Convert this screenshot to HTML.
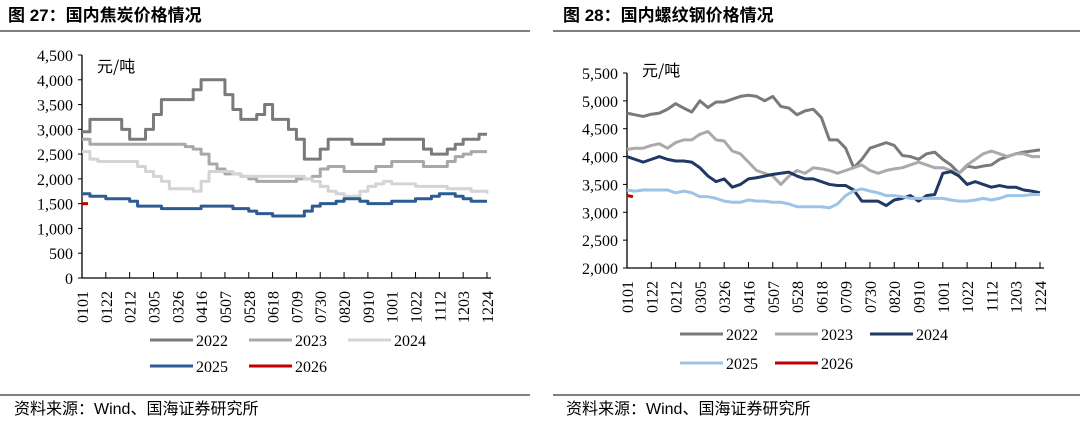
<!DOCTYPE html>
<html><head><meta charset="utf-8">
<style>
body{margin:0;width:1080px;height:426px;background:#fff;overflow:hidden;font-family:"Liberation Serif","Noto Serif CJK SC",serif;}
svg{display:block}
.t{font-family:"Liberation Sans","Noto Sans CJK SC",sans-serif;font-weight:bold;font-size:17px;fill:#000}
.ax{font-size:16px;fill:#000}
.src{font-family:"Liberation Sans","Noto Sans CJK SC",sans-serif;font-size:16px;fill:#000}
</style></head>
<body>
<svg id="s" width="1080" height="426">
<text class="t" x="8" y="21">图 27：国内焦炭价格情况</text>
<text class="t" x="563" y="21">图 28：国内螺纹钢价格情况</text>
<line x1="0" y1="31" x2="530" y2="31" stroke="#555" stroke-width="1.5"/>
<line x1="553" y1="31" x2="1080" y2="31" stroke="#555" stroke-width="1.5"/>
<line x1="0" y1="395" x2="530" y2="395" stroke="#555" stroke-width="1.5"/>
<line x1="553" y1="395" x2="1080" y2="395" stroke="#555" stroke-width="1.5"/>
<text class="src" x="14" y="414">资料来源：Wind、国海证券研究所</text>
<text class="src" x="566" y="414">资料来源：Wind、国海证券研究所</text>
<g id="L"></g><g id="R"></g>
</svg>
<script>
const xCategories=["0101","0122","0212","0305","0326","0416","0507","0528","0618","0709","0730","0820","0910","1001","1022","1112","1203","1224"];
const cokeTicks=[0,500,1000,1500,2000,2500,3000,3500,4000,4500];
const coke2022=[2950,3200,3200,3200,3200,3000,2800,2800,3000,3300,3600,3600,3600,3600,3800,4000,4000,4000,3700,3400,3200,3200,3300,3500,3200,3200,3000,2800,2400,2400,2600,2800,2800,2800,2700,2700,2700,2700,2800,2800,2800,2800,2800,2600,2500,2500,2600,2700,2800,2800,2900,2900];
const coke2023=[2800,2700,2700,2700,2700,2700,2700,2700,2700,2700,2700,2700,2700,2650,2600,2500,2300,2200,2100,2100,2050,2000,1950,1950,1950,1950,1950,2000,2000,2050,2200,2250,2250,2150,2150,2150,2150,2250,2250,2350,2350,2350,2350,2250,2250,2250,2350,2450,2500,2550,2550,2550];
const coke2024=[2550,2400,2350,2350,2350,2350,2350,2250,2150,2050,1950,1800,1800,1800,1750,1950,2150,2150,2150,2100,2050,2050,2050,2050,2050,2050,2050,2050,2000,1950,1850,1750,1700,1650,1650,1750,1850,1900,1950,1900,1900,1900,1850,1850,1850,1850,1800,1800,1800,1750,1750,1700];
const coke2025=[1700,1650,1650,1600,1600,1600,1550,1450,1450,1450,1400,1400,1400,1400,1400,1450,1450,1450,1450,1400,1400,1350,1300,1300,1250,1250,1250,1250,1350,1450,1500,1500,1550,1600,1600,1550,1500,1500,1500,1550,1550,1550,1600,1600,1650,1700,1700,1650,1600,1550,1550,1550];
const coke2026=[1500,1500];
const rebarTicks=[2000,2500,3000,3500,4000,4500,5000,5500];
const rebar2022=[4780,4750,4720,4760,4780,4850,4950,4870,4800,5000,4880,4980,4980,5030,5080,5100,5080,5000,5080,4900,4870,4750,4820,4850,4700,4300,4300,4150,3800,3950,4150,4200,4250,4200,4020,4000,3950,4050,4080,3950,3850,3700,3830,3800,3830,3850,3950,4000,4050,4080,4100,4120];
const rebar2023=[4130,4150,4150,4200,4230,4150,4250,4300,4300,4400,4450,4300,4280,4100,4050,3900,3750,3700,3650,3500,3650,3750,3700,3800,3780,3750,3700,3750,3800,3850,3750,3700,3750,3780,3800,3850,3900,3850,3800,3800,3750,3700,3850,3950,4050,4100,4050,4000,4050,4050,4000,4000];
const rebar2024=[4000,3950,3900,3950,4000,3950,3920,3920,3900,3800,3650,3550,3600,3450,3500,3600,3620,3650,3680,3700,3720,3650,3600,3600,3550,3500,3480,3480,3400,3200,3200,3200,3120,3220,3250,3300,3200,3300,3320,3700,3730,3650,3500,3550,3500,3450,3480,3450,3450,3400,3380,3350];
const rebar2025=[3400,3380,3400,3400,3400,3400,3350,3380,3350,3280,3280,3250,3200,3180,3180,3220,3200,3200,3180,3180,3150,3100,3100,3100,3100,3080,3150,3300,3380,3420,3380,3350,3300,3300,3280,3250,3250,3250,3250,3250,3220,3200,3200,3220,3250,3220,3250,3300,3300,3300,3320,3320];
const rebar2026=[3300,3280];
const NS="http://www.w3.org/2000/svg";
function mk(p,tag,at){const e=document.createElementNS(NS,tag);for(const k in at)e.setAttribute(k,at[k]);p.appendChild(e);return e;}
function chart(g,o){
  const yS=v=>o.y0+(v-o.vmin)/(o.vmax-o.vmin)*(o.y1-o.y0);
  const xS=i=>o.x0+i/51*(o.x1-o.x0);
  const ya=mk(g,'line',{x1:o.x0,y1:o.y1,x2:o.x0,y2:o.y0,stroke:'#000','stroke-width':1.3});
  
  
  const xa=mk(g,'line',{x1:o.x0,y1:o.y0,x2:o.x1+4,y2:o.y0,stroke:'#000','stroke-width':1.3});
  
  
  o.ticks.forEach(v=>{
    const y=yS(v);
    mk(g,'line',{x1:o.x0-4,y1:y,x2:o.x0,y2:y,stroke:'#000'});
    const t=mk(g,'text',{x:o.x0-9,y:y+6,'text-anchor':'end',class:'ax'});
    t.textContent=v.toLocaleString('en-US');
    
    
  });
  const u=mk(g,'text',{x:o.ux,y:o.uy,class:'ax','font-family':'"Noto Sans CJK SC",sans-serif','font-size':'14'});
  u.textContent='元/吨';
  
  
  const sp=(o.x1-o.x0)/17;
  xCategories.forEach((c,k)=>{
    const x=o.x0+k*sp;
    if(k>0)mk(g,'line',{x1:x,y1:o.y0,x2:x,y2:o.y0-6,stroke:'#000'});
    const t=mk(g,'text',{transform:`translate(${x+6},${o.y0+13}) rotate(-90)`,'text-anchor':'end',class:'ax'});
    t.textContent=c;
    
    
  });
  o.series.forEach(s=>{
    let d='';
    s.v.forEach((v,i)=>{
      if(o.step){d+=(i?`L${xS(i)},${yS(s.v[i-1])}L${xS(i)},${yS(v)}`:`M${xS(i)},${yS(v)}`);}
      else d+=(i?'L':'M')+xS(i)+','+yS(v);
    });
    if(s.short){d='';s.v.forEach((v,i)=>{d+=(i?'L':'M')+(xS(0)+i*6)+','+yS(v);});}
    const p=mk(g,'path',{d:d,fill:'none',stroke:s.c,'stroke-width':3,'stroke-linejoin':'round'});
    
    
  });
  o.series.forEach((s,i)=>{
    const lx=o.lx+(i%3)*o.lsp, ly=o.ly+Math.floor(i/3)*o.lrow;
    const l=mk(g,'line',{x1:lx,y1:ly,x2:lx+43,y2:ly,stroke:s.c,'stroke-width':3});
    
    
    const t=mk(g,'text',{x:lx+46,y:ly+6,class:'ax','font-size':'18'});
    t.textContent=s.n;
    
    
  });
}
chart(document.getElementById('L'),{id:'coke',x0:82,x1:487,y0:278,y1:55,vmin:0,vmax:4500,ticks:cokeTicks,ux:97,uy:72,step:true,
  lx:150,ly:340,lsp:99,lrow:26,
  series:[{n:'2022',c:'#7a7a7a',v:coke2022},{n:'2023',c:'#a8a8a8',v:coke2023},{n:'2024',c:'#d4d4d4',v:coke2024},{n:'2025',c:'#2d5c92',v:coke2025},{n:'2026',c:'#c00000',v:coke2026,short:true}]});
chart(document.getElementById('R'),{id:'rebar',x0:627,x1:1040,y0:268,y1:73,vmin:2000,vmax:5500,ticks:rebarTicks,ux:642,uy:76,step:false,
  lx:680,ly:334,lsp:95,lrow:29,
  series:[{n:'2022',c:'#7a7a7a',v:rebar2022},{n:'2023',c:'#aaaaaa',v:rebar2023},{n:'2024',c:'#1f3864',v:rebar2024},{n:'2025',c:'#9dc3e6',v:rebar2025},{n:'2026',c:'#c00000',v:rebar2026,short:true}]});
</script>
</body></html>
